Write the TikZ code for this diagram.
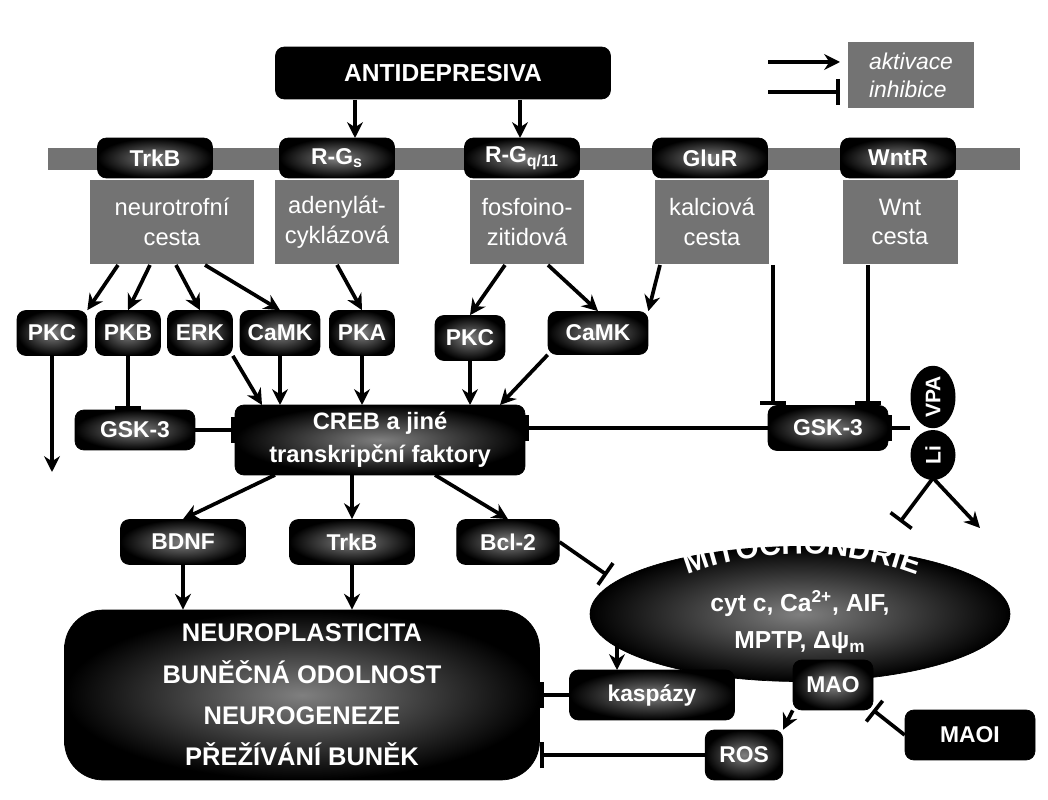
\documentclass[tikz,border=0pt]{standalone}
\usepackage{fontspec}
\setmainfont{Liberation Sans}
\usetikzlibrary{arrows.meta,shapes.geometric,decorations.text}
\begin{document}
\begin{tikzpicture}[x=0.02cm,y=-0.02cm,
 box/.style={rounded corners=5pt,draw=black,inner color=black!50,outer color=black,text=white,font=\fontsize{13}{15}\selectfont\bfseries,inner sep=0pt,align=center},
 blk/.style={box,inner color=black,outer color=black},
 gbox/.style={fill=black!55,text=white,font=\fontsize{13.5}{17}\selectfont,inner sep=0pt,align=center},
 ar/.style={-{Stealth[length=9pt,width=9pt]},line width=2.1pt},
 inh/.style={-{Bar[width=15pt,line width=2.1pt]},line width=2.1pt}]
\useasboundingbox (0,0) rectangle (1048,800);
% membrane
\fill[black!55] (48,148) rectangle (1020,170);
\node[blk,minimum width=6.7cm,minimum height=1.04cm,font=\fontsize{14}{16}\selectfont\bfseries] (ad) at (443,73) {ANTIDEPRESIVA};
% legend
\node[fill=black!55,minimum width=2.54cm,minimum height=1.32cm,text=white,align=left,font=\fontsize{13}{16}\selectfont\itshape] (leg) at (911,75) {aktivace\\inhibice};
\coordinate (l1) at (768,62); \coordinate (l2) at (840,62);
\coordinate (l3) at (768,92); \coordinate (l4) at (840,92);
\draw[ar] (l1)--(l2); \draw[inh] (l3)--(l4);
% pathway boxes
\node[gbox,minimum width=3.3cm,minimum height=1.7cm] (g1) at (172,222) {neurotrofní\\cesta};
\node[gbox,minimum width=2.5cm,minimum height=1.7cm] (g2) at (337,222) {adenylát-\\cyklázová};
\node[gbox,minimum width=2.3cm,minimum height=1.7cm] (g3) at (527,222) {fosfoino-\\zitidová};
\node[gbox,minimum width=2.3cm,minimum height=1.7cm] (g4) at (712,222) {kalciová\\cesta};
\node[gbox,minimum width=2.3cm,minimum height=1.7cm] (g5) at (900,222) {Wnt\\cesta};
% receptors
\node[box,minimum width=2.3cm,minimum height=0.8cm] (r1) at (155,158) {TrkB};
\node[box,minimum width=2.3cm,minimum height=0.8cm] (r2) at (337,158) {R-G\textsubscript{s}};
\node[box,minimum width=2.3cm,minimum height=0.8cm] (r3) at (522,158) {R-G\textsubscript{q/11}};
\node[box,minimum width=2.3cm,minimum height=0.8cm] (r4) at (710,158) {GluR};
\node[box,minimum width=2.3cm,minimum height=0.8cm] (r5) at (898,158) {WntR};
\draw[ar] (355,100)--(355,138);
\draw[ar] (520,100)--(520,138);
% kinases
\node[box,minimum width=1.4cm,minimum height=0.9cm] (pkc1) at (52,333) {PKC};
\node[box,minimum width=1.3cm,minimum height=0.9cm] (pkb) at (128,333) {PKB};
\node[box,minimum width=1.3cm,minimum height=0.9cm] (erk) at (200,333) {ERK};
\node[box,minimum width=1.6cm,minimum height=0.9cm] (camk1) at (280,333) {CaMK};
\node[box,minimum width=1.3cm,minimum height=0.9cm] (pka) at (362,333) {PKA};
\node[box,minimum width=1.4cm,minimum height=0.9cm] (pkc2) at (470,338) {PKC};
\node[box,minimum width=2.0cm,minimum height=0.86cm] (camk2) at (598,333) {CaMK};
\draw[ar] (118,265)--(pkc1.north east);
\draw[ar] (150,265)--(pkb.north);
\draw[ar] (176,265)--(erk.north);
\draw[ar] (205,265)--(camk1.north);
\draw[ar] (g2.south)--(pka.north);
\draw[ar] (505,265)--(pkc2.north);
\draw[ar] (548,265)--(camk2.north);
\draw[ar] (660,265)--(camk2.north east);
% CREB
\node[box,minimum width=5.8cm,minimum height=1.4cm,font=\fontsize{13.5}{19}\selectfont\bfseries] (creb) at (380,440) {CREB a jiné\\transkripční faktory};
\node[box,minimum width=2.4cm,minimum height=0.8cm] (gskl) at (135,430) {GSK-3};
\node[box,minimum width=2.4cm,minimum height=0.9cm] (gskr) at (828,428) {GSK-3};
\coordinate (pkcend) at (52,472);
\draw[ar] (pkc1.south)--(pkcend);
\draw[inh] (pkb.south)--(gskl.north-|pkb);
\draw[inh] (gskl.east)--(creb.west|-gskl);
\draw[ar] (erk.south east)--(262,405);
\draw[ar] (camk1.south)--(280,405);
\draw[ar] (pka.south)--(362,405);
\draw[ar] (pkc2.south)--(470,405);
\draw[ar] (camk2.south west)--(500,405);
\draw[inh] (gskr.west)--(creb.east|-gskr);
\draw[inh] (773,265)--(773,405);
\draw[inh] (868,265)--(868,405);
% Li / VPA
\node[ellipse,fill=black,minimum width=0.9cm,minimum height=1.25cm,inner sep=0pt] (vpa) at (933,397) {};
\node[ellipse,fill=black,minimum width=0.9cm,minimum height=1.0cm,inner sep=0pt] (li) at (933,455) {};
\node[text=white,font=\fontsize{12}{14}\selectfont\bfseries,rotate=90] at (vpa) {VPA};
\node[text=white,font=\fontsize{12}{14}\selectfont\bfseries,rotate=90] at (li) {Li};
\draw[inh] (910,428)--(gskr.east);
\coordinate (lib) at (933,478);
\coordinate (lia) at (980,528);
\draw[inh] (lib)--(900,522);
\draw[ar] (lib)--(lia);
% row 3
\node[box,minimum width=2.5cm,minimum height=0.9cm] (bdnf) at (183,542) {BDNF};
\node[box,minimum width=2.5cm,minimum height=0.9cm] (trkb) at (352,542) {TrkB};
\node[box,minimum width=2.05cm,minimum height=0.9cm] (bcl) at (508,542) {Bcl-2};
\draw[ar] (275,475)--(bdnf.north);
\draw[ar] (352,475)--(trkb.north);
\draw[ar] (435,475)--(bcl.north);
% mitochondria
\node[ellipse,draw=black,inner color=black!50,outer color=black,minimum width=8.4cm,minimum height=2.7cm,inner sep=0pt] (mito) at (800,614) {};
\node[text=white,font=\fontsize{14}{21}\selectfont\bfseries,align=center] at (800,622) {cyt c, Ca\textsuperscript{2+}, AIF,\\MPTP, Δψ\textsubscript{m}};
\path[decorate,decoration={text along path,text align=center,text={|\fontsize{17}{20}\selectfont\bfseries\color{white}|MITOCHONDRIE}}] (655,590) .. controls (745,542) and (855,542) .. (950,590);
\draw[inh] (bcl.east)--(607,575);
% big box
\node[box,rounded corners=22pt,minimum width=9.5cm,minimum height=3.4cm,font=\fontsize{14.5}{23.5}\selectfont\bfseries] (big) at (302,695) {NEUROPLASTICITA\\BUNĚČNÁ ODOLNOST\\NEUROGENEZE\\PŘEŽÍVÁNÍ BUNĚK};
\draw[ar] (bdnf.south)--(big.north-|bdnf);
\draw[ar] (trkb.south)--(big.north-|trkb);
% bottom right
\node[box,minimum width=3.3cm,minimum height=1.0cm] (kas) at (652,695) {kaspázy};
\node[box,minimum width=1.6cm,minimum height=1.0cm] (mao) at (833,685) {MAO};
\node[box,minimum width=1.55cm,minimum height=1.0cm] (ros) at (744,755) {ROS};
\node[blk,minimum width=2.6cm,minimum height=1.0cm] (maoi) at (970,735) {MAOI};
\draw[ar] (617,643)--(617,670);
\draw[inh] (kas.west)--(big.east|-kas);
\draw[inh] (ros.west)--(big.east|-ros);
\draw[ar] (mao.south west)--(ros.north east);
\draw[inh] (maoi.west)--(873,710);
\end{tikzpicture}
\end{document}
